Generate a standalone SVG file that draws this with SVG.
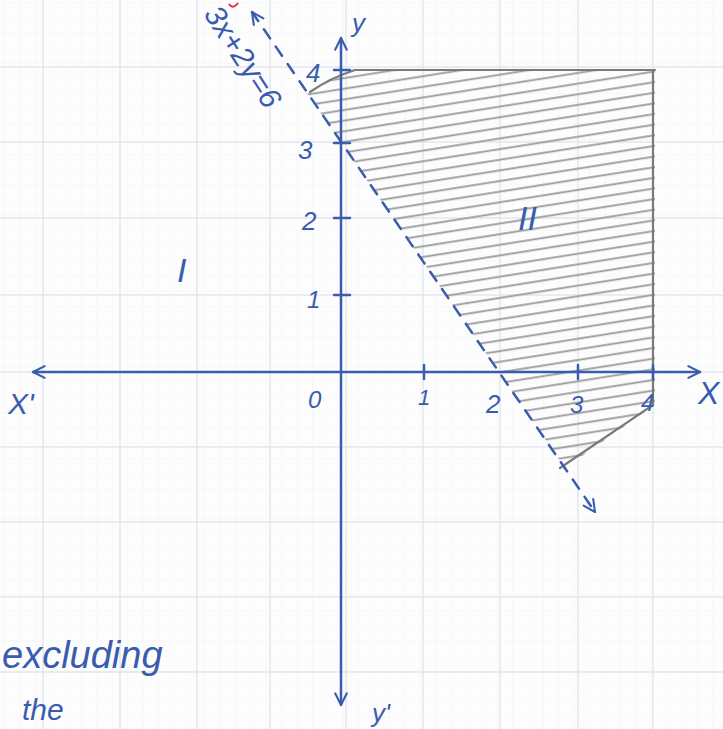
<svg xmlns="http://www.w3.org/2000/svg" width="723" height="729" viewBox="0 0 723 729">
<style>
.grid{stroke:#e2e6ec;stroke-width:1.5;fill:none}
.minor{stroke:#f2f4f7;stroke-width:1;fill:none}
.ink{stroke:#3a5cae;stroke-width:2.5;fill:none;stroke-linecap:round;stroke-linejoin:round}
.pencil{stroke:#7a7a7a;stroke-width:2.2;fill:none;stroke-linecap:round}
.t{font-family:"Liberation Sans",Arial,sans-serif;fill:#3a5cae;font-style:italic}
</style>
<defs>
<marker id="chev" viewBox="0 0 12 12" refX="11" refY="6" markerWidth="14" markerHeight="14" markerUnits="userSpaceOnUse" orient="auto-start-reverse">
<path d="M1,1 L11,6 L1,11" fill="none" stroke="#3a5cae" stroke-width="1.8" stroke-linecap="round"/>
</marker>
<pattern id="hatch" width="300" height="10.5" patternUnits="userSpaceOnUse" patternTransform="rotate(-9)">
<line x1="0" y1="5" x2="300" y2="5" stroke="#9d9d9d" stroke-width="1.8"/>
</pattern>
<pattern id="mg" width="15.4" height="15.2" patternUnits="userSpaceOnUse" x="4" y="2">
<path d="M0,0 H15.4 M0,0 V15.2" class="minor"/>
</pattern>
<clipPath id="reg"><path d="M306,92 L355,70 L655,70 L655,405 L565,468 Z"/></clipPath>
</defs>
<rect width="723" height="729" fill="#fdfdfd"/>
<rect width="723" height="729" fill="url(#mg)"/>
<g id="grid" class="grid">
<path d="M43,0V729M120,0V729M197,0V729M270,0V729M346,0V729M423,0V729M500,0V729M578,0V729M653,0V729"/>
<path d="M0,67H723M0,142H723M0,218H723M0,295H723M0,372H723M0,447H723M0,522H723M0,597H723M0,672H723"/>
</g>
<g id="region-II">
<rect x="300" y="60" width="360" height="420" fill="url(#hatch)" clip-path="url(#reg)"/>
<path class="pencil" d="M310,92 Q330,78 355,70 L655,70 M653,70 L653,405 L560,468"/>
</g>
<g id="connectors">
<line id="x-axis" class="ink" x1="33" y1="372" x2="700" y2="372" marker-start="url(#chev)" marker-end="url(#chev)"/>
<line id="y-axis" class="ink" x1="341" y1="38" x2="341" y2="705" marker-start="url(#chev)" marker-end="url(#chev)"/>
<line id="line-3x2y6" class="ink" x1="252" y1="12" x2="595" y2="512" stroke-dasharray="11,10" marker-start="url(#chev)" marker-end="url(#chev)"/>
<path class="ink" d="M334,70H350M334,143H350M334,218H350M334,295H350M424,365V379M578,365V379M653,365V379"/>
</g>
<path d="M229,4 Q233,10 238,3" stroke="#e03040" stroke-width="2" fill="none"/>
<g id="labels">
<text class="t" x="352" y="32" font-size="26">y</text>
<text class="t" x="372" y="722" font-size="26">y'</text>
<text class="t" x="698" y="404" font-size="32">X</text>
<text class="t" x="8" y="414" font-size="30">X'</text>
<text class="t" x="306" y="82" font-size="26">4</text>
<text class="t" x="298" y="159" font-size="26">3</text>
<text class="t" x="302" y="230" font-size="26">2</text>
<text class="t" x="307" y="308" font-size="24">1</text>
<text class="t" x="308" y="408" font-size="24">0</text>
<text class="t" x="418" y="405" font-size="22">1</text>
<text class="t" x="486" y="413" font-size="26">2</text>
<text class="t" x="570" y="413" font-size="24">3</text>
<text class="t" x="641" y="411" font-size="24">4</text>
<text class="t" x="177" y="282" font-size="34">I</text>
<text class="t" x="518" y="230" font-size="34">II</text>
<text class="t" x="0" y="0" font-size="30" transform="translate(203,14) rotate(57)">3x+2y=6</text>
<text class="t" x="2" y="668" font-size="38">excluding</text>
<text class="t" x="22" y="720" font-size="30">the</text>
</g>
</svg>
